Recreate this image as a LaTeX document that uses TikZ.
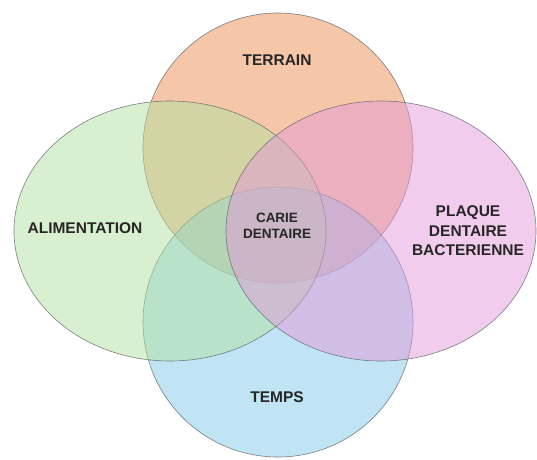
\documentclass[tikz,border=0pt]{standalone}
\usepackage{fontspec}
\setmainfont{Liberation Sans}

\definecolor{terraincol}{RGB}{235,141,81}
\definecolor{tempscol}{RGB}{129,201,233}
\definecolor{alimcol}{RGB}{177,225,161}
\definecolor{plaquecol}{RGB}{227,153,217}
\definecolor{edgecol}{RGB}{95,100,105}

\begin{document}
\begin{tikzpicture}[x=1pt,y=-1pt,
        set/.style={draw=edgecol,line width=0.6pt,fill opacity=0.5,draw opacity=0.8},
        lbl/.style={font=\fontsize{15.5}{19.5}\selectfont\bfseries,align=center,text=black!85},
        small/.style={font=\fontsize{13.5}{16.5}\selectfont\bfseries,align=center,text=black!85}]
        \useasboundingbox (0,0) rectangle (537,459);
        % les quatre ensembles
        \draw[set,fill=terraincol] (278,148) ellipse [x radius=135,y radius=135];
        \draw[set,fill=tempscol] (278,322) ellipse [x radius=135,y radius=135];
        \draw[set,fill=alimcol] (170,231) ellipse [x radius=156,y radius=130];
        \draw[set,fill=plaquecol] (381,231) ellipse [x radius=155,y radius=130];
        % textes
        \node[lbl] (terrain) at (277,60) {TERRAIN};
        \node[lbl] (alim) at (85,228) {ALIMENTATION};
        \node[lbl] (plaque) at (468,231) {PLAQUE\\DENTAIRE\\BACTERIENNE};
        \node[lbl] (temps) at (277,397) {TEMPS};
        \node[small] (carie) at (277,226) {CARIE\\DENTAIRE};
    \end{tikzpicture}
\end{document}
